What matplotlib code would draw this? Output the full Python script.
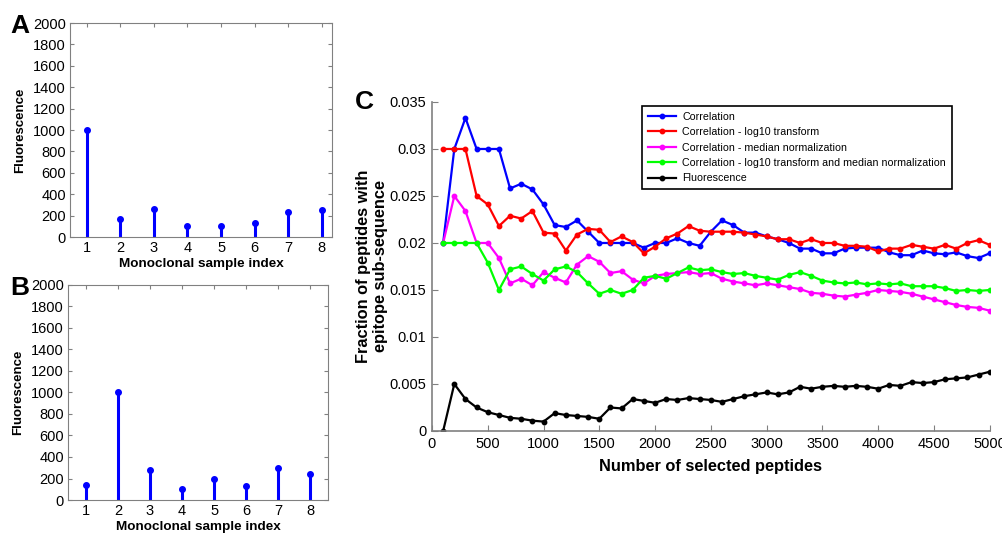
#!/usr/bin/env python3
"""
Monoclonal fluorescence stems (A, B) and epitope fraction curves (C)
"""

import numpy as np
import matplotlib
matplotlib.use('Agg')
import matplotlib.pyplot as plt

plt.rcParams['font.family'] = ['Liberation Sans', 'DejaVu Sans']

# 面板 A / B 数据
sample_idx = [1, 2, 3, 4, 5, 6, 7, 8]
fluor_a = [1000, 170, 265, 100, 105, 135, 230, 248]
fluor_b = [135, 1000, 275, 100, 195, 130, 295, 240]

# 面板 C 数据
n_peptides = list(range(100, 5001, 100))
corr = [0.0200, 0.0300, 0.0333, 0.0300, 0.0300, 0.0300, 0.0258, 0.0263, 0.0257, 0.0241,
        0.0219, 0.0217, 0.0224, 0.0212, 0.0200, 0.0200, 0.0200, 0.0200, 0.0195, 0.0200,
        0.0200, 0.0205, 0.0200, 0.0197, 0.0212, 0.0224, 0.0219, 0.0211, 0.0211, 0.0207,
        0.0204, 0.0200, 0.0194, 0.0194, 0.0189, 0.0189, 0.0194, 0.0195, 0.0195, 0.0195,
        0.0190, 0.0187, 0.0187, 0.0192, 0.0189, 0.0188, 0.0190, 0.0186, 0.0184, 0.0189]
corr_log = [0.0300, 0.0300, 0.0300, 0.0250, 0.0241, 0.0218, 0.0229, 0.0226, 0.0234, 0.0211,
            0.0210, 0.0192, 0.0209, 0.0215, 0.0214, 0.0201, 0.0207, 0.0201, 0.0189, 0.0196,
            0.0205, 0.0210, 0.0218, 0.0213, 0.0212, 0.0212, 0.0212, 0.0211, 0.0209, 0.0207,
            0.0204, 0.0204, 0.0200, 0.0204, 0.0200, 0.0200, 0.0197, 0.0197, 0.0196, 0.0191,
            0.0194, 0.0194, 0.0198, 0.0196, 0.0194, 0.0198, 0.0194, 0.0200, 0.0203, 0.0198]
corr_med = [0.0200, 0.0250, 0.0234, 0.0200, 0.0200, 0.0184, 0.0157, 0.0162, 0.0155, 0.0169,
            0.0163, 0.0158, 0.0177, 0.0186, 0.0180, 0.0168, 0.0170, 0.0161, 0.0157, 0.0165,
            0.0167, 0.0168, 0.0169, 0.0167, 0.0168, 0.0162, 0.0159, 0.0157, 0.0155, 0.0157,
            0.0155, 0.0153, 0.0151, 0.0147, 0.0146, 0.0144, 0.0143, 0.0145, 0.0147, 0.0150,
            0.0149, 0.0148, 0.0146, 0.0143, 0.0140, 0.0137, 0.0134, 0.0132, 0.0131, 0.0128]
corr_log_med = [0.0200, 0.0200, 0.0200, 0.0200, 0.0179, 0.0150, 0.0172, 0.0175, 0.0167, 0.0160,
                0.0172, 0.0175, 0.0169, 0.0157, 0.0146, 0.0150, 0.0146, 0.0150, 0.0163, 0.0165,
                0.0162, 0.0168, 0.0174, 0.0171, 0.0172, 0.0169, 0.0167, 0.0168, 0.0165, 0.0163,
                0.0161, 0.0166, 0.0169, 0.0165, 0.0160, 0.0158, 0.0157, 0.0158, 0.0156, 0.0157,
                0.0156, 0.0157, 0.0154, 0.0154, 0.0154, 0.0152, 0.0149, 0.0150, 0.0149, 0.0150]
fluor_curve = [0.0000, 0.0050, 0.0034, 0.0025, 0.0020, 0.0017, 0.0014, 0.0013, 0.0011, 0.0010,
               0.0019, 0.0017, 0.0016, 0.0015, 0.0013, 0.0025, 0.0024, 0.0034, 0.0032, 0.0030,
               0.0034, 0.0033, 0.0035, 0.0034, 0.0033, 0.0031, 0.0034, 0.0037, 0.0039, 0.0041,
               0.0039, 0.0041, 0.0047, 0.0045, 0.0047, 0.0048, 0.0047, 0.0048, 0.0047, 0.0045,
               0.0049, 0.0048, 0.0052, 0.0051, 0.0052, 0.0055, 0.0056, 0.0057, 0.0060, 0.0063]

series_labels = ['Correlation', 'Correlation - log10 transform',
                 'Correlation - median normalization',
                 'Correlation - log10 transform and median normalization',
                 'Fluorescence']
series_colors = ['#0000ff', '#ff0000', '#ff00ff', '#00ff00', '#000000']

SPINE = '#808080'

fig = plt.figure(figsize=(10.03, 5.35), dpi=100)


def stem_panel(rect, values, xlim, letter):
    ax = fig.add_axes(rect)
    ml, sl, bl = ax.stem(sample_idx, values, linefmt='-', markerfmt='o', basefmt=' ')
    plt.setp(sl, color='#0000ff', linewidth=2.2)
    plt.setp(ml, color='#0000ff', markersize=4)
    ax.set_xlim(*xlim)
    ax.set_ylim(0, 2000)
    ax.set_xticks(sample_idx)
    ax.set_yticks(range(0, 2001, 200))
    ax.tick_params(direction='in', top=True, right=True, length=3, labelsize=10.5,
                   color=SPINE, pad=3)
    for s in ax.spines.values():
        s.set_color(SPINE)
    ax.set_ylabel('Fluorescence', fontsize=9.5, fontweight='bold', labelpad=5)
    ax.set_xlabel('Monoclonal sample index', fontsize=9.7, fontweight='bold', labelpad=2)
    fig.text(0.010, rect[1] + rect[3] - 0.005, letter, fontsize=19, fontweight='bold',
             va='center', ha='left')
    return ax


# 面板 A、B
stem_panel([0.0698, 0.557, 0.261, 0.400], fluor_a, (0.5, 8.3), 'A')
stem_panel([0.0680, 0.0654, 0.259, 0.402], fluor_b, (0.45, 8.55), 'B')

# 面板 C
axc = fig.add_axes([0.4307, 0.1944, 0.556, 0.615])
for vals, lab, col in zip([corr, corr_log, corr_med, corr_log_med, fluor_curve],
                          series_labels, series_colors):
    axc.plot(n_peptides, vals, '-o', color=col, linewidth=1.6, markersize=3.2, label=lab)

axc.set_xlim(0, 5000)
axc.set_ylim(0, 0.035)
axc.set_xticks(range(0, 5001, 500))
axc.set_yticks([0, 0.005, 0.01, 0.015, 0.02, 0.025, 0.03, 0.035])
axc.set_yticklabels(['0', '0.005', '0.01', '0.015', '0.02', '0.025', '0.03', '0.035'])
axc.spines['top'].set_visible(False)
axc.spines['right'].set_visible(False)
for s in ['left', 'bottom']:
    axc.spines[s].set_color(SPINE)
    axc.spines[s].set_linewidth(1.2)
axc.tick_params(direction='in', length=4, labelsize=10.5, color=SPINE, pad=4)
axc.set_xlabel('Number of selected peptides', fontsize=11.8, fontweight='bold', labelpad=6)
axc.set_ylabel('Fraction of peptides with\nepitope sub-sequence', fontsize=11.8,
               fontweight='bold', labelpad=1)
fig.text(0.354, 0.81, 'C', fontsize=19, fontweight='bold', va='center', ha='left')

leg = axc.legend(loc='upper left', bbox_to_anchor=(642 / 1003, 1 - 106 / 535),
                 bbox_transform=fig.transFigure, fontsize=7.7, frameon=True,
                 fancybox=False, framealpha=1, edgecolor='black', borderpad=0.55,
                 handlelength=2.6, handletextpad=0.6, labelspacing=0.5,
                 borderaxespad=0)
leg.get_frame().set_linewidth(1.2)

plt.savefig('out.png', dpi=100)
plt.close()
